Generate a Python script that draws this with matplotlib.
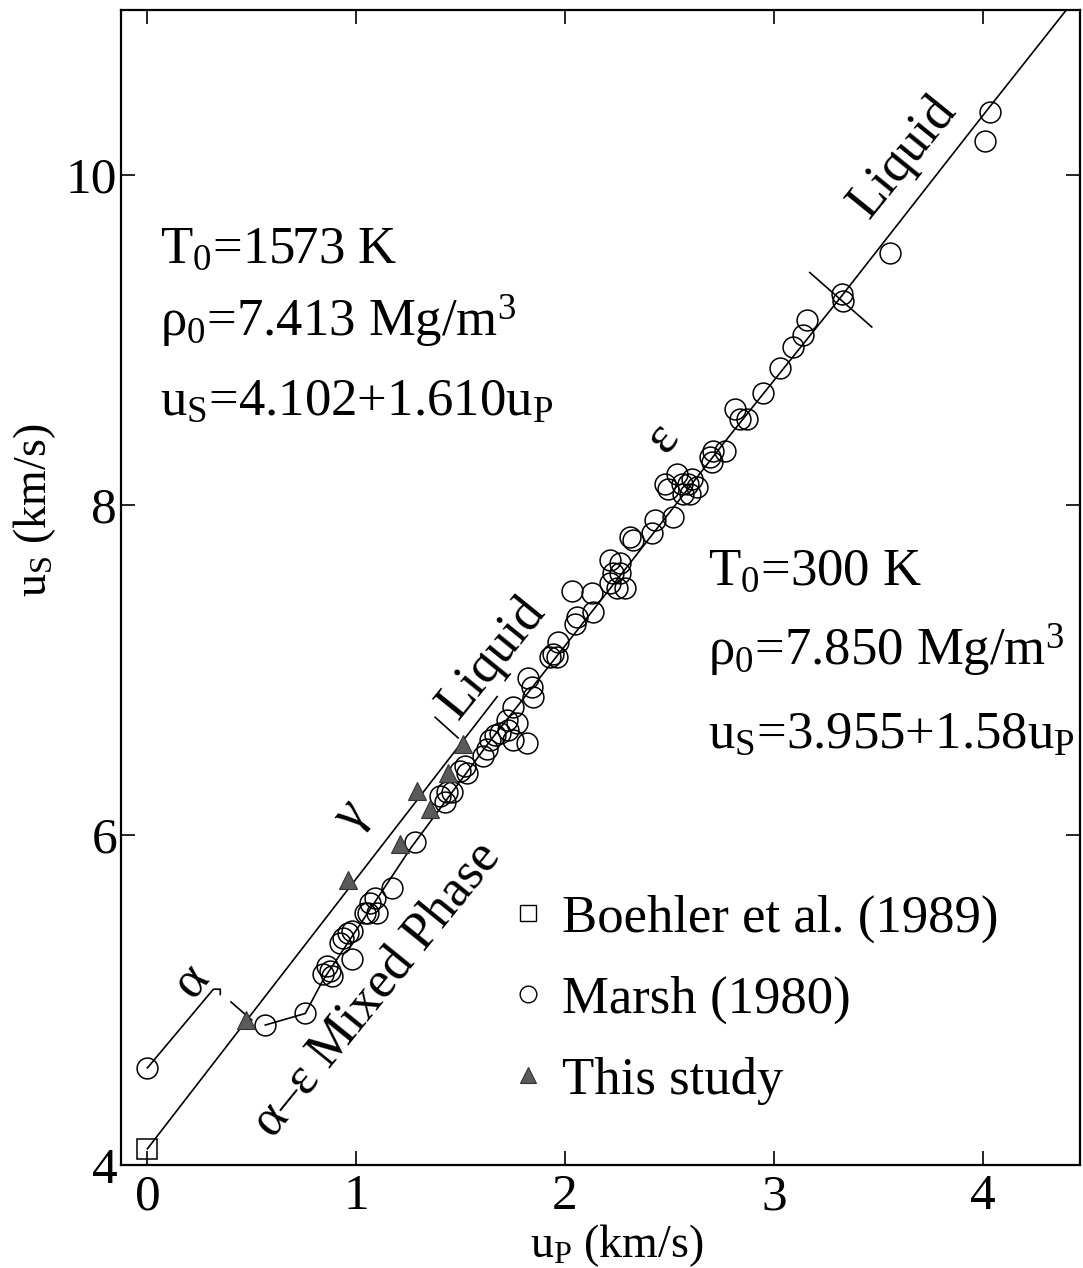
import matplotlib
matplotlib.use("Agg")
import matplotlib.pyplot as plt
from matplotlib.lines import Line2D

plt.rcParams['font.family'] = ['Liberation Serif', 'DejaVu Serif']
plt.rcParams['mathtext.fontset'] = 'custom'
plt.rcParams['mathtext.rm'] = 'Liberation Serif'
plt.rcParams['mathtext.it'] = 'Liberation Serif:italic'
plt.rcParams['mathtext.default'] = 'regular'

# Boehler et al. (1989)
boehler_up = [0.0]
boehler_us = [4.10]

# Marsh (1980)
marsh_up = [0.0, 0.565, 0.756, 0.876, 0.861, 0.885, 0.842, 0.981, 0.938, 0.962,
            0.981, 0.923, 1.057, 1.067, 1.091, 1.043, 1.10, 1.172, 1.282, 1.402,
            1.435, 1.426, 1.459, 1.498, 1.531, 1.522, 1.608, 1.627, 1.641, 1.665,
            1.689, 1.727, 1.751, 1.751, 1.722, 1.770, 1.823, 1.842, 1.847, 1.818,
            1.943, 1.967, 1.928, 1.962, 2.048, 2.057, 2.134, 2.033, 2.129, 2.23,
            2.263, 2.287, 2.249, 2.215, 2.215, 2.263, 2.311, 2.325, 2.416, 2.431,
            2.517, 2.478, 2.493, 2.536, 2.560, 2.589, 2.632, 2.565, 2.598, 2.608,
            2.694, 2.708, 2.703, 2.766, 2.813, 2.837, 2.871, 2.947, 3.029, 3.091,
            3.158, 3.139, 3.325, 3.33, 3.555, 4.033, 4.01]
marsh_us = [4.59, 4.85, 4.92, 5.18, 5.21, 5.15, 5.16, 5.25, 5.38, 5.41,
            5.42, 5.35, 5.53, 5.59, 5.62, 5.53, 5.53, 5.68, 5.96, 6.24,
            6.26, 6.20, 6.26, 6.39, 6.38, 6.42, 6.48, 6.52, 6.58, 6.61,
            6.62, 6.64, 6.58, 6.78, 6.70, 6.68, 6.95, 6.90, 6.84, 6.56,
            7.10, 7.17, 7.08, 7.08, 7.28, 7.32, 7.35, 7.48, 7.47, 7.59,
            7.59, 7.50, 7.50, 7.53, 7.67, 7.65, 7.81, 7.79, 7.83, 7.91,
            7.93, 8.13, 8.10, 8.19, 8.13, 8.13, 8.11, 8.07, 8.07, 8.16,
            8.29, 8.33, 8.26, 8.33, 8.58, 8.52, 8.52, 8.68, 8.83, 8.96,
            9.12, 9.03, 9.28, 9.24, 9.53, 10.38, 10.21]

# This study
this_up = [0.47, 0.96, 1.21, 1.29, 1.354, 1.44, 1.51]
this_us = [4.88, 5.73, 5.95, 6.27, 6.16, 6.38, 6.55]

# guide lines
gamma_up = [0.0, 0.47, 1.675]
gamma_us = [4.10, 4.87, 6.84]
alpha_up = [0.0, 0.316, 0.349, 0.349]
alpha_us = [4.59, 5.067, 5.067, 5.035]
eps_up = [0.565, 0.756, 0.84, 1.26, 1.64, 2.25, 2.756, 3.32, 4.0, 4.5]
eps_us = [4.85, 4.92, 5.12, 5.92, 6.57, 7.55, 8.37, 9.26, 10.36, 11.16]
tick_a_up = [0.40, 0.50]
tick_a_us = [4.99, 4.88]
tick_l1_up = [1.378, 1.488]
tick_l1_us = [6.715, 6.59]
tick_l2_up = [3.172, 3.469]
tick_l2_us = [9.41, 9.08]

fig = plt.figure(figsize=(10.83, 12.68), dpi=100)
ax = fig.add_axes([0.112, 0.081, 0.885, 0.911])

lw = 1.2
ax.plot(gamma_up, gamma_us, color='k', lw=lw)
ax.plot(alpha_up, alpha_us, color='k', lw=lw)
ax.plot(eps_up, eps_us, color='k', lw=lw)
for tu, ts in [(tick_a_up, tick_a_us), (tick_l1_up, tick_l1_us), (tick_l2_up, tick_l2_us)]:
    ax.plot(tu, ts, color='k', lw=lw)

ax.plot(marsh_up, marsh_us, 'o', ms=15, mfc='none', mec='k', mew=1.1)
ax.plot(this_up, this_us, '^', ms=13, mfc='#5a5a5a', mec='#333333', mew=0.8)
ax.plot(boehler_up, boehler_us, 's', ms=14, mfc='none', mec='k', mew=1.1)

ax.set_xlim(-0.125, 4.465)
ax.set_ylim(4, 11.0)
ax.set_xticks([0, 1, 2, 3, 4])
ax.set_yticks([4, 6, 8, 10])
ax.tick_params(direction='in', length=10, width=1.2, labelsize=37,
               top=True, right=True)
ax.tick_params(axis='x', pad=6)
ax.tick_params(axis='y', pad=3)
for s in ax.spines.values():
    s.set_linewidth(1.6)

ax.set_xlabel('u$_P$ (km/s)', fontsize=33)
ax.xaxis.set_label_coords(0.517, -0.049)
ax.xaxis.label.set_va('top')
ax.set_ylabel('u$_S$ (km/s)', fontsize=33)
ax.yaxis.set_label_coords(-0.066, 0.567)

fs = 38
left_block = ['T$_0$=1573 K', 'ρ$_0$=7.413 Mg/m$^3$', 'u$_S$=4.102+1.610u$_P$']
left_y = [9.47, 9.02, 8.545]
for s, yy in zip(left_block, left_y):
    ax.text(0.062, yy, s, fontsize=fs, va='baseline', ha='left')

right_block = ['T$_0$=300 K', 'ρ$_0$=7.850 Mg/m$^3$', 'u$_S$=3.955+1.58u$_P$']
right_y = [7.515, 7.03, 6.527]
for s, yy in zip(right_block, right_y):
    ax.text(2.684, yy, s, fontsize=fs, va='baseline', ha='left')

rot = dict(rotation=51, rotation_mode='anchor', ha='center', va='center', fontsize=fs)
ax.text(1.10, 5.067, 'α–ε Mixed Phase', **rot)
ax.text(1.65, 7.07, 'Liquid', **rot)
ax.text(3.62, 10.11, 'Liquid', **rot)
ax.text(2.47, 8.41, 'ε', **rot)
ax.text(0.976, 6.12, 'γ', **rot)
ax.text(0.215, 5.12, 'α', **rot)

handles = [
    Line2D([], [], ls='none', marker='s', ms=12, mfc='none', mec='k', mew=1.0),
    Line2D([], [], ls='none', marker='o', ms=12, mfc='none', mec='k', mew=1.0),
    Line2D([], [], ls='none', marker='^', ms=12, mfc='#5a5a5a', mec='#333333', mew=0.8),
]
labels = ['Boehler et al. (1989)', 'Marsh (1980)', 'This study']
ax.legend(handles, labels, loc='upper left', bbox_to_anchor=(0.38, 0.257),
          frameon=False, fontsize=fs, handlelength=0.6, handletextpad=0.35,
          labelspacing=0.62, borderpad=0)

fig.savefig('out.png', dpi=100)
